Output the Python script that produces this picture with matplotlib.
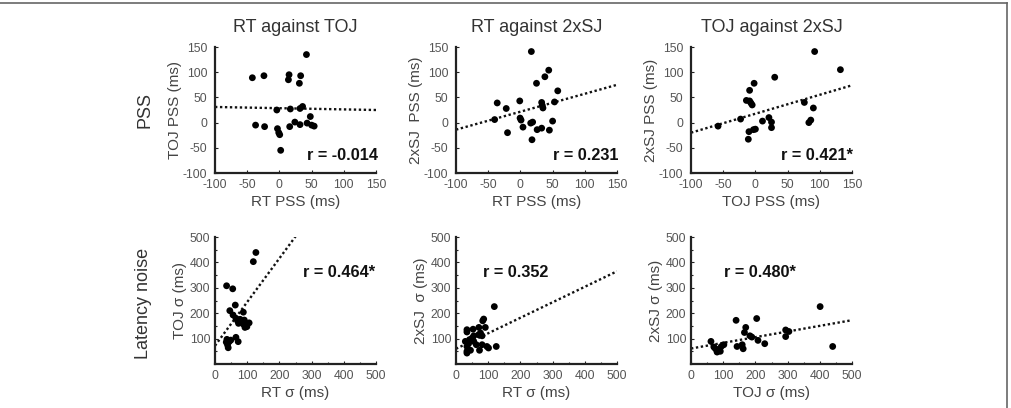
import numpy as np
import matplotlib
matplotlib.use("Agg")
import matplotlib.pyplot as plt
from matplotlib.lines import Line2D

plt.rcParams['font.family'] = ['Liberation Sans', 'DejaVu Sans']
plt.rcParams['axes.unicode_minus'] = False

# ---------------- data ----------------
col_titles = ["RT against TOJ", "RT against 2xSJ", "TOJ against 2xSJ"]
row_titles = ["PSS", "Latency noise"]

# PSS row
p1_x = [-42, -24, 15, 14, 33, 31, 42, -4, 17, 32, 36, 48, -37, -23, -3, -1, 0.5, 2, 16, 24, 32, 43, 50, 54]
p1_y = [89, 93, 95, 85, 93, 78, 135, 25, 27, 28, 32, 12, -5, -8, -12, -20, -24, -55, -8, 1, -4, -1, -5, -7]

p2_x = [17, 44, 38, 25, 58, -36, -22, -1, 33, 34, 35, 53, -40, -0.5, 1, 4, -20, 16, 19, 26, 33, 45, 50, 18]
p2_y = [141, 104, 91, 78, 63, 39, 28, 43, 40, 34, 29, 41, 6, 9, 5, -9, -20, -1, 1, -14, -11, -15, 3, -34]

p3_x = [92, 132, 30, -2, -9, -14, -9, -7, -5, 76, 90, -58, -23, 11, 21, 25, 25, -10, -3, 0, -11, 86, 83]
p3_y = [141, 105, 90, 78, 64, 44, 43, 39, 35, 40, 29, -7, 7, 3, 10, 1, -10, -18, -14, -13, -33, 5, 0]

# Latency noise row
p4_x = [127, 119, 36, 55, 63, 46, 56, 65, 88, 78, 83, 91, 88, 99, 106, 93, 73, 70, 37, 44, 49, 39, 41, 65, 72, 35]
p4_y = [439, 403, 308, 296, 232, 210, 193, 180, 204, 176, 166, 173, 157, 147, 162, 144, 160, 170, 97, 88, 94, 75, 64, 105, 88, 86]

p5_x = [119, 86, 83, 34, 53, 71, 91, 34, 76, 81, 70, 55, 50, 42, 55, 29, 39, 34, 63, 81, 96, 101, 125, 73, 34, 45, 34]
p5_y = [226, 177, 170, 135, 137, 144, 144, 126, 122, 111, 115, 111, 102, 96, 89, 89, 80, 69, 76, 76, 69, 63, 69, 54, 50, 54, 43]

p6_x = [401, 440, 204, 140, 170, 166, 183, 189, 208, 229, 143, 159, 162, 294, 304, 294, 62, 71, 76, 86, 91, 81, 102, 94]
p6_y = [226, 69, 179, 172, 144, 124, 111, 106, 93, 80, 69, 76, 60, 134, 128, 108, 89, 67, 60, 56, 50, 47, 76, 69]

# fitted lines: (intercept, slope)
fit_intercepts = [28.6, 21.6, 17.6, 72.0, 60.0, 61.0]
fit_slopes = [-0.024, 0.356, 0.376, 1.72, 0.61, 0.223]

r_texts = ["r = -0.014", "r = 0.231", "r = 0.421*", "r = 0.464*", "r = 0.352", "r = 0.480*"]

x_labels = ["RT PSS (ms)", "RT PSS (ms)", "TOJ PSS (ms)", "RT σ (ms)", "RT σ (ms)", "TOJ σ (ms)"]
y_labels = ["TOJ PSS (ms)", "2xSJ  PSS (ms)", "2xSJ PSS (ms)", "TOJ σ (ms)", "2xSJ  σ (ms)", "2xSJ σ (ms)"]

pss_ticks = [-100, -50, 0, 50, 100, 150]
noise_xticks = [0, 100, 200, 300, 400, 500]
noise_yticks = [100, 200, 300, 400, 500]

panels_x = [p1_x, p2_x, p3_x, p4_x, p5_x, p6_x]
panels_y = [p1_y, p2_y, p3_y, p4_y, p5_y, p6_y]

# ---------------- layout ----------------
W, H = 1011, 408
fig = plt.figure(figsize=(W / 100, H / 100), dpi=100)

col_left = [215, 456, 691]
ax_w = 161
row_top = [47, 237]
ax_h = [126, 127]

# r-text placement (axes fraction) and alignment
r_pos = [(1.01, 0.135, 'right'), (1.01, 0.135, 'right'), (1.006, 0.135, 'right'),
         (0.994, 0.72, 'right'), (0.168, 0.72, 'left'), (0.205, 0.72, 'left')]

tick_col = '#555555'
lab_col = '#444444'

for i in range(6):
    r, c = divmod(i, 3)
    left = col_left[c] / W
    bottom = 1 - (row_top[r] + ax_h[r]) / H
    ax = fig.add_axes([left, bottom, ax_w / W, ax_h[r] / H])
    for s in ['top', 'right']:
        ax.spines[s].set_visible(False)
    for s in ['left', 'bottom']:
        ax.spines[s].set_linewidth(1.6)
        ax.spines[s].set_color('#222222')

    if r == 0:
        xlim = (-100, 150)
        ylim = (-100, 150)
        ax.set_xticks(pss_ticks)
        ax.set_yticks(pss_ticks)
        ypad = 5.5
        ylp = 0.5
    else:
        xlim = (0, 500)
        ylim = (0, 500)
        ax.set_xticks(noise_xticks)
        ax.set_yticks(noise_yticks)
        ax.set_xticks(np.arange(50, 500, 100), minor=True)
        ax.set_yticks(np.arange(50, 500, 100), minor=True)
        ypad = 3.5
        ylp = 2.0
    ax.set_xlim(*xlim)
    ax.set_ylim(*ylim)

    ax.tick_params(which='both', direction='in', colors='#222222', labelcolor=tick_col,
                   labelsize=8.8, length=2.5, width=0.8)
    ax.tick_params(axis='x', which='both', pad=4)
    ax.tick_params(axis='y', which='both', pad=ypad)
    ax.tick_params(which='minor', length=1.5)

    ax.scatter(panels_x[i], panels_y[i], s=24, color='black', edgecolors='none', zorder=3)

    xs = np.array(xlim, dtype=float)
    ax.plot(xs, fit_intercepts[i] + fit_slopes[i] * xs, color='#111111',
            linestyle=(0, (1, 1.1)), linewidth=1.7, zorder=2)

    rx, ry, ha = r_pos[i]
    ax.text(rx, ry, r_texts[i], transform=ax.transAxes, ha=ha, va='center',
            fontsize=11.7, fontweight='bold', color='#111111', clip_on=False)

    ax.set_xlabel(x_labels[i], fontsize=11, color=lab_col, labelpad=3)
    ax.set_ylabel(y_labels[i], fontsize=11, color=lab_col, labelpad=ylp)

    if r == 0:
        ax.set_title(col_titles[c], fontsize=13, color='#333333', pad=11)

fig.text(145 / W, 1 - 110 / H, row_titles[0], rotation=90, ha='center', va='center',
         fontsize=13, color='#333333')
fig.text(143 / W, 1 - 303 / H, row_titles[1], rotation=90, ha='center', va='center',
         fontsize=13, color='#333333')

# partial frame (top and right edges)
fig.add_artist(Line2D([0, 1007 / W], [1 - 2.5 / H, 1 - 2.5 / H], transform=fig.transFigure,
                      color='#666666', linewidth=1.2))
fig.add_artist(Line2D([1007 / W, 1007 / W], [1 - 2.5 / H, 0], transform=fig.transFigure,
                      color='#666666', linewidth=1.2))

fig.savefig('out.png', dpi=100, facecolor='white')
